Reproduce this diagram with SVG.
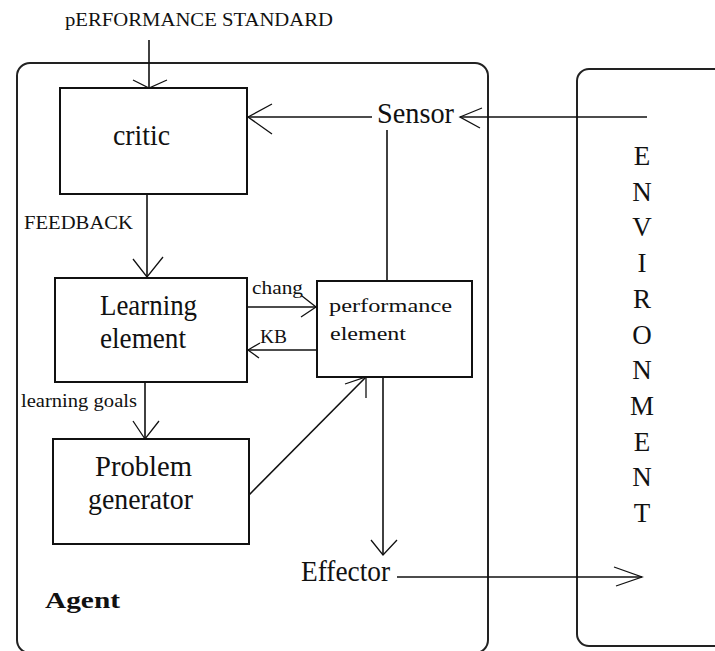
<svg xmlns="http://www.w3.org/2000/svg" width="715" height="651" viewBox="0 0 715 651">
  <style>
    .frame { fill: none; stroke: #222; stroke-width: 2; }
    .box { fill: #fff; stroke: #111; stroke-width: 2; }
    .line { fill: none; stroke: #111; stroke-width: 1.6; }
    .head { fill: none; stroke: #111; stroke-width: 1.3; }
    text { font-family: "Liberation Serif", "Times New Roman", serif; fill: #111; }
    .big { font-size: 29px; }
    .mid { font-size: 19px; }
    .small { font-size: 18px; }
    .env { font-size: 27px; text-anchor: middle; }
    .bold { font-size: 24px; font-weight: bold; }
  </style>
  <rect width="715" height="651" fill="#fff"/>

  <!-- outer frames -->
  <g id="agent">
    <rect class="frame" x="17" y="63" width="471" height="590" rx="13"/>
    <text class="bold" x="45" y="608" textLength="75" lengthAdjust="spacingAndGlyphs">Agent</text>
  </g>
  <g id="environment">
    <rect class="frame" x="577" y="69" width="160" height="577" rx="12"/>
    <text class="env" x="642" y="165">E</text>
    <text class="env" x="642" y="200.7">N</text>
    <text class="env" x="642" y="236.4">V</text>
    <text class="env" x="642" y="272">I</text>
    <text class="env" x="642" y="307.8">R</text>
    <text class="env" x="642" y="343.5">O</text>
    <text class="env" x="642" y="379">N</text>
    <text class="env" x="642" y="415">M</text>
    <text class="env" x="642" y="450.6">E</text>
    <text class="env" x="642" y="486.3">N</text>
    <text class="env" x="642" y="522">T</text>
  </g>

  <!-- connectors -->
  <g id="connectors">
    <!-- performance standard into critic -->
    <line class="line" x1="149" y1="40" x2="149" y2="88"/>
    <polyline class="head" points="133,80 149,88 167,80"/>
    <!-- environment to sensor -->
    <line class="line" x1="647" y1="117" x2="460" y2="117"/>
    <polyline class="head" points="482,108 460,117 480,128"/>
    <!-- sensor to critic -->
    <line class="line" x1="372" y1="117" x2="247" y2="117"/>
    <polyline class="head" points="272,104 248,117 272,134"/>
    <!-- sensor down to performance element -->
    <line class="line" x1="387" y1="130" x2="387" y2="281"/>
    <!-- critic to learning element -->
    <line class="line" x1="147" y1="194" x2="147" y2="278"/>
    <polyline class="head" points="133,259 147,277 163,257"/>
    <!-- learning element to performance element -->
    <line class="line" x1="247" y1="307" x2="317" y2="307"/>
    <polyline class="head" points="302,296 316,307 301,317"/>
    <!-- performance element to learning element -->
    <line class="line" x1="317" y1="350" x2="247" y2="350"/>
    <polyline class="head" points="260,343 248,350 259,358"/>
    <!-- learning element to problem generator -->
    <line class="line" x1="145" y1="382" x2="145" y2="439"/>
    <polyline class="head" points="133,421 145,439 159,421"/>
    <!-- problem generator to performance element -->
    <line class="line" x1="249" y1="495" x2="366" y2="377"/>
    <polyline class="head" points="345,384 366,377 366,398"/>
    <!-- performance element to effector -->
    <line class="line" x1="383" y1="377" x2="383" y2="555"/>
    <polyline class="head" points="371,540 383,555 397,540"/>
    <!-- effector to environment -->
    <line class="line" x1="397" y1="577" x2="642" y2="577"/>
    <polyline class="head" points="614,567 642,577 616,586"/>

    <text class="mid" x="65" y="26" textLength="268" lengthAdjust="spacingAndGlyphs">pERFORMANCE STANDARD</text>
    <text class="mid" x="24" y="229" textLength="109" lengthAdjust="spacingAndGlyphs">FEEDBACK</text>
    <text class="small" x="252" y="294" textLength="51" lengthAdjust="spacingAndGlyphs">chang</text>
    <text class="small" x="260" y="343" textLength="27" lengthAdjust="spacingAndGlyphs">KB</text>
    <text class="small" x="21" y="407" textLength="116" lengthAdjust="spacingAndGlyphs">learning goals</text>
  </g>

  <!-- nodes -->
  <g id="critic">
    <rect class="box" x="60" y="88" width="187" height="106"/>
    <text class="big" x="113" y="145" textLength="57" lengthAdjust="spacingAndGlyphs">critic</text>
  </g>
  <g id="learning-element">
    <rect class="box" x="55" y="278" width="192" height="104"/>
    <text class="big" x="100" y="315" textLength="97" lengthAdjust="spacingAndGlyphs">Learning</text>
    <text class="big" x="100" y="348" textLength="86" lengthAdjust="spacingAndGlyphs">element</text>
  </g>
  <g id="problem-generator">
    <rect class="box" x="53" y="439" width="196" height="105"/>
    <text class="big" x="95" y="476" textLength="97" lengthAdjust="spacingAndGlyphs">Problem</text>
    <text class="big" x="88" y="509" textLength="105" lengthAdjust="spacingAndGlyphs">generator</text>
  </g>
  <g id="performance-element">
    <rect class="box" x="317" y="281" width="155" height="96"/>
    <text class="mid" x="329" y="312" textLength="123" lengthAdjust="spacingAndGlyphs">performance</text>
    <text class="mid" x="330" y="340" textLength="76" lengthAdjust="spacingAndGlyphs">element</text>
  </g>
  <g id="sensor">
    <text class="big" x="377" y="123" textLength="77" lengthAdjust="spacingAndGlyphs">Sensor</text>
  </g>
  <g id="effector">
    <text class="big" x="301" y="581" textLength="89" lengthAdjust="spacingAndGlyphs">Effector</text>
  </g>
</svg>
